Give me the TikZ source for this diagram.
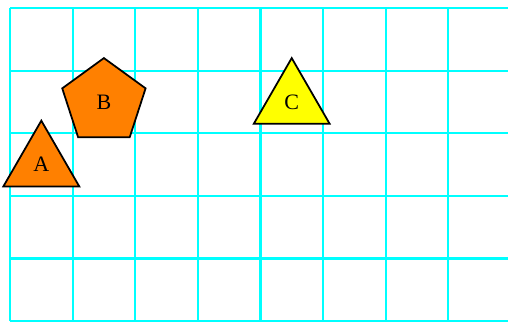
\documentclass[tikz,border=0pt]{standalone}
\usepackage{fontspec}
\setmainfont{Liberation Serif}
\usepackage{tikz}
\usetikzlibrary{shapes.geometric}

\definecolor{gridcyan}{RGB}{0,255,255}
\definecolor{shapeorange}{RGB}{255,128,0}
\definecolor{shapeyellow}{RGB}{255,255,0}

\begin{document}
\begin{tikzpicture}[
    shapebox/.style={draw, thick, regular polygon, minimum size=1.4cm, inner sep=0pt},
    tri/.style={shapebox, regular polygon sides=3},
    penta/.style={shapebox, regular polygon sides=5}
  ]
  \useasboundingbox (-0.16,-0.016) rectangle (7.955,5.128);
  \draw[gridcyan, line width=1pt] (0,0) grid (8,5);
  \node[tri, fill=shapeorange] (A) at (0.5,2.5) {A};
  \node[penta, fill=shapeorange] (B) at (1.5,3.5) {B};
  \node[tri, fill=shapeyellow] (C) at (4.5,3.5) {C};
\end{tikzpicture}
\end{document}
